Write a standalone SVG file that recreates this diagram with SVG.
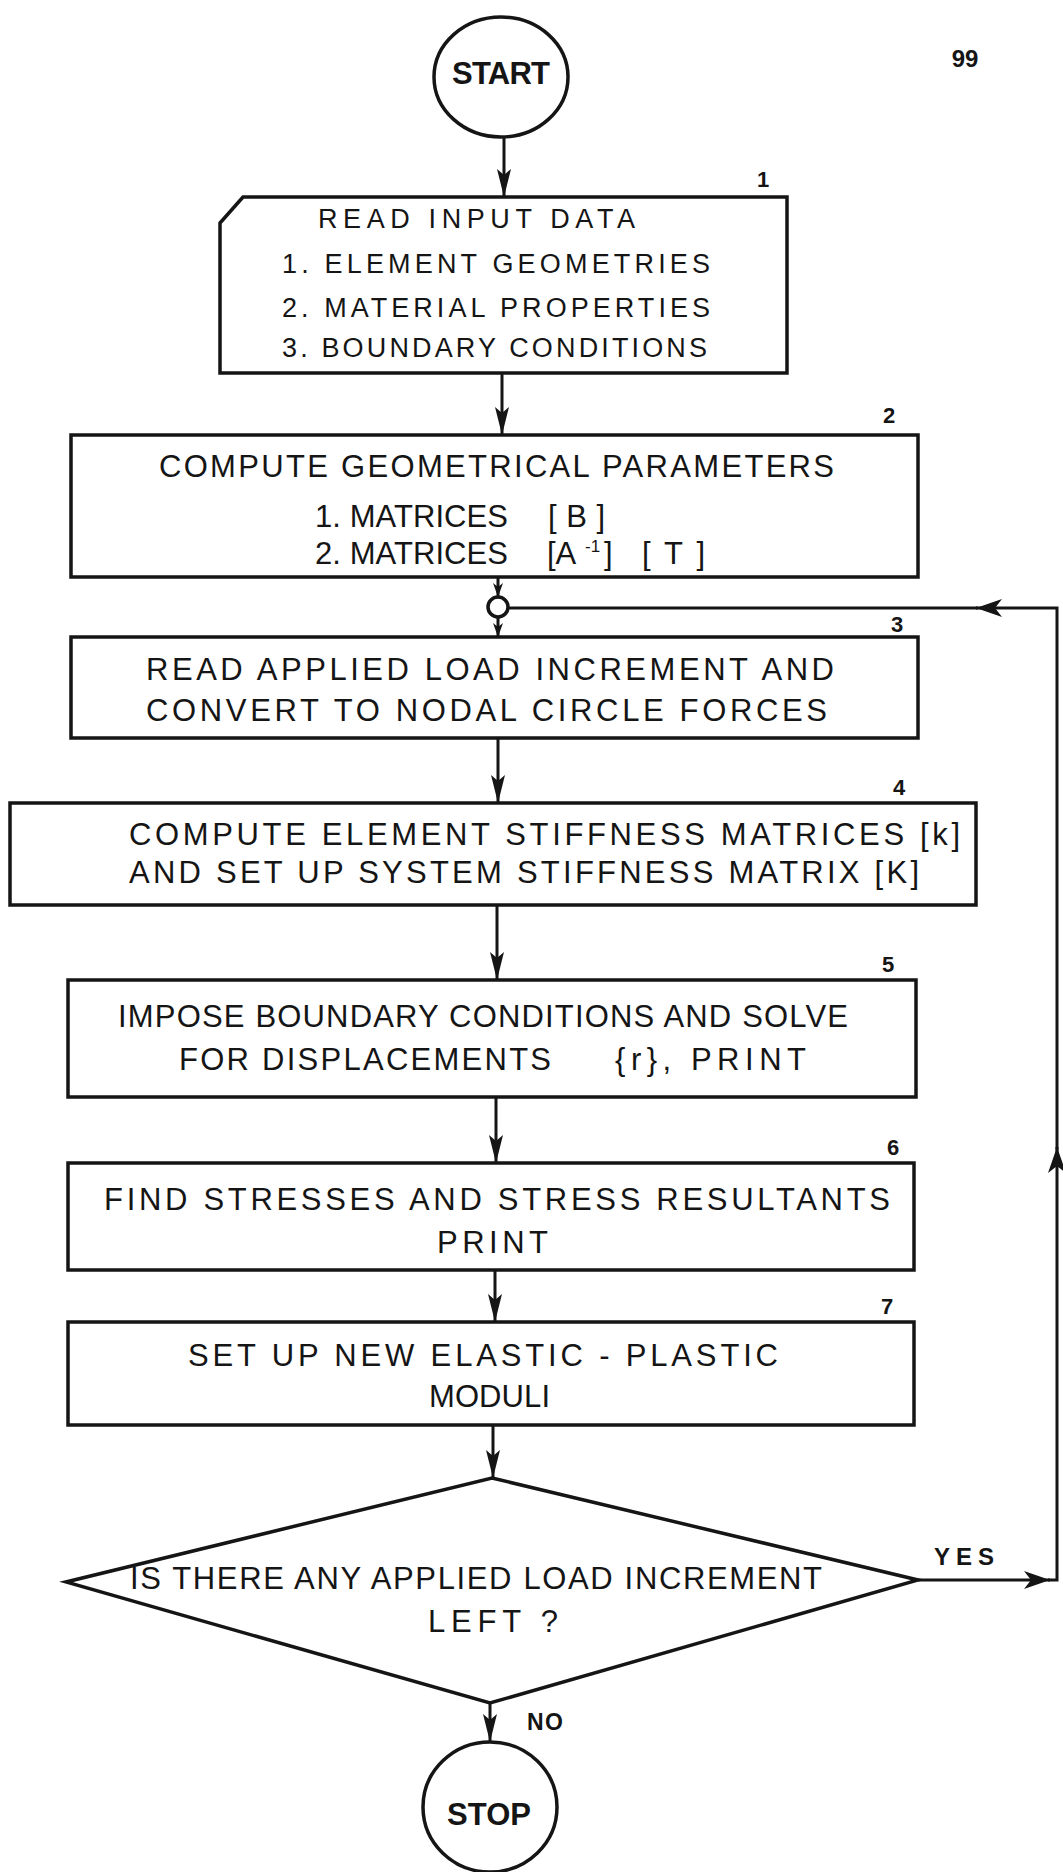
<svg xmlns="http://www.w3.org/2000/svg" width="1063" height="1872" viewBox="0 0 1063 1872">
<style>
.shape{fill:none;stroke:#151515;stroke-width:3.5;stroke-linejoin:miter}
.conn{fill:none;stroke:#151515;stroke-width:3}
.t{font-family:"Liberation Sans",Arial,sans-serif;font-size:31px;fill:#151515}
.t1{font-family:"Liberation Sans",Arial,sans-serif;font-size:27px;fill:#151515}
.b{font-family:"Liberation Sans",Arial,sans-serif;font-weight:bold;fill:#151515}
.num{font-family:"Liberation Sans",Arial,sans-serif;font-weight:bold;font-size:22px;fill:#151515;text-anchor:middle}
</style>
<defs>
<marker id="ah" markerUnits="userSpaceOnUse" markerWidth="30" markerHeight="16" refX="28" refY="8" orient="auto"><path d="M28,8 L0,1 L6,8 L0,15 Z" fill="#151515"/></marker>
<marker id="ahs" markerUnits="userSpaceOnUse" markerWidth="16" markerHeight="10" refX="14" refY="5" orient="auto"><path d="M14,5 L0,0 L4,5 L0,10 Z" fill="#151515"/></marker>
<marker id="ahb" markerUnits="userSpaceOnUse" markerWidth="28" markerHeight="20" refX="26" refY="10" orient="auto"><path d="M26,10 L0,1 L7,10 L0,19 Z" fill="#151515"/></marker>
</defs>

<text class="b" x="965" y="67" font-size="24" text-anchor="middle">99</text>

<g id="start">
<ellipse class="shape" cx="501" cy="77" rx="67" ry="60"/>
<text class="b" x="452" y="84" font-size="31" textLength="98">START</text>
</g>

<g id="box1">
<path class="shape" d="M243,197 H787 V373 H220 V223 Z"/>
<text class="num" x="763" y="187" font-weight="normal">1</text>
<text class="t1" x="318" y="228" textLength="317">READ INPUT DATA</text>
<text class="t1" x="282" y="273" textLength="428">1. ELEMENT GEOMETRIES</text>
<text class="t1" x="282" y="317" textLength="428">2. MATERIAL PROPERTIES</text>
<text class="t1" x="282" y="357" textLength="425">3. BOUNDARY CONDITIONS</text>
</g>

<g id="box2">
<rect class="shape" x="71" y="435" width="847" height="142"/>
<text class="num" x="889" y="423">2</text>
<text class="t" x="159" y="477" textLength="675">COMPUTE GEOMETRICAL PARAMETERS</text>
<text class="t" x="315" y="527" textLength="193">1. MATRICES</text>
<text class="t" x="548" y="527" textLength="57">[B]</text>
<text class="t" x="315" y="564" textLength="193">2. MATRICES</text>
<text class="t"><tspan x="547" y="564">[A</tspan><tspan x="585" y="552" font-size="17">-1</tspan><tspan x="604" y="564">]</tspan></text>
<text class="t" x="642" y="564" textLength="63">[T]</text>
</g>

<g id="junction">
<circle class="shape" cx="498" cy="607" r="10" fill="#fff"/>
</g>

<g id="box3">
<rect class="shape" x="71" y="637" width="847" height="101"/>
<text class="num" x="897" y="632">3</text>
<text class="t" x="146" y="680" textLength="688">READ APPLIED LOAD INCREMENT AND</text>
<text class="t" x="146" y="721" textLength="681">CONVERT TO NODAL CIRCLE FORCES</text>
</g>

<g id="box4">
<rect class="shape" x="10" y="803" width="966" height="102"/>
<text class="num" x="899" y="795">4</text>
<text class="t" x="129" y="845" textLength="831">COMPUTE ELEMENT STIFFNESS MATRICES [k]</text>
<text class="t" x="129" y="883" textLength="790">AND SET UP SYSTEM STIFFNESS MATRIX [K]</text>
</g>

<g id="box5">
<rect class="shape" x="68" y="980" width="848" height="117"/>
<text class="num" x="888" y="972">5</text>
<text class="t" x="118" y="1027" textLength="730">IMPOSE BOUNDARY CONDITIONS AND SOLVE</text>
<text class="t" x="179" y="1070" textLength="372">FOR DISPLACEMENTS</text>
<text class="t" x="615" y="1070" textLength="191">{r}, PRINT</text>
</g>

<g id="box6">
<rect class="shape" x="68" y="1163" width="846" height="107"/>
<text class="num" x="893" y="1155">6</text>
<text class="t" x="104" y="1210" textLength="786">FIND STRESSES AND STRESS RESULTANTS</text>
<text class="t" x="437" y="1253" textLength="111">PRINT</text>
</g>

<g id="box7">
<rect class="shape" x="68" y="1322" width="846" height="103"/>
<text class="num" x="887" y="1314">7</text>
<text class="t" x="188" y="1366" textLength="590">SET UP NEW ELASTIC - PLASTIC</text>
<text class="t" x="429" y="1407" textLength="121">MODULI</text>
</g>

<g id="decision">
<path class="shape" d="M492,1478 L918,1580 L490,1703 L66,1582 Z"/>
<text class="t" x="130" y="1589" textLength="692">IS THERE ANY APPLIED LOAD INCREMENT</text>
<text class="t" x="428" y="1632" textLength="130">LEFT ?</text>
</g>

<g id="stop">
<ellipse class="shape" cx="490" cy="1807" rx="67" ry="65"/>
<text class="b" x="447" y="1825" font-size="31" textLength="84">STOP</text>
</g>

<g id="connectors">
<path class="conn" d="M504,137 V197" marker-end="url(#ah)"/>
<path class="conn" d="M502,373 V435" marker-end="url(#ah)"/>
<path class="conn" d="M498,577 V597" marker-end="url(#ahs)"/>
<path class="conn" d="M498,617 V637" marker-end="url(#ahs)"/>
<path class="conn" d="M498,738 V803" marker-end="url(#ah)"/>
<path class="conn" d="M497,905 V980" marker-end="url(#ah)"/>
<path class="conn" d="M496,1097 V1163" marker-end="url(#ah)"/>
<path class="conn" d="M495,1270 V1322" marker-end="url(#ah)"/>
<path class="conn" d="M493,1425 V1478" marker-end="url(#ah)"/>
<path class="conn" d="M490,1703 V1742" marker-end="url(#ah)"/>
<path class="conn" d="M918,1580 H1050" stroke-width="4" marker-end="url(#ahb)"/>
<path class="conn" d="M1048,1580 H1057 V1147" marker-end="url(#ahb)"/>
<path class="conn" d="M1057,1150 V608 H976" marker-end="url(#ahb)"/>
<path class="conn" d="M978,608 H508"/>
<text class="b" x="934" y="1565" font-size="24" textLength="60">YES</text>
<text class="b" x="527" y="1730" font-size="23" textLength="36">NO</text>
</g>
</svg>
